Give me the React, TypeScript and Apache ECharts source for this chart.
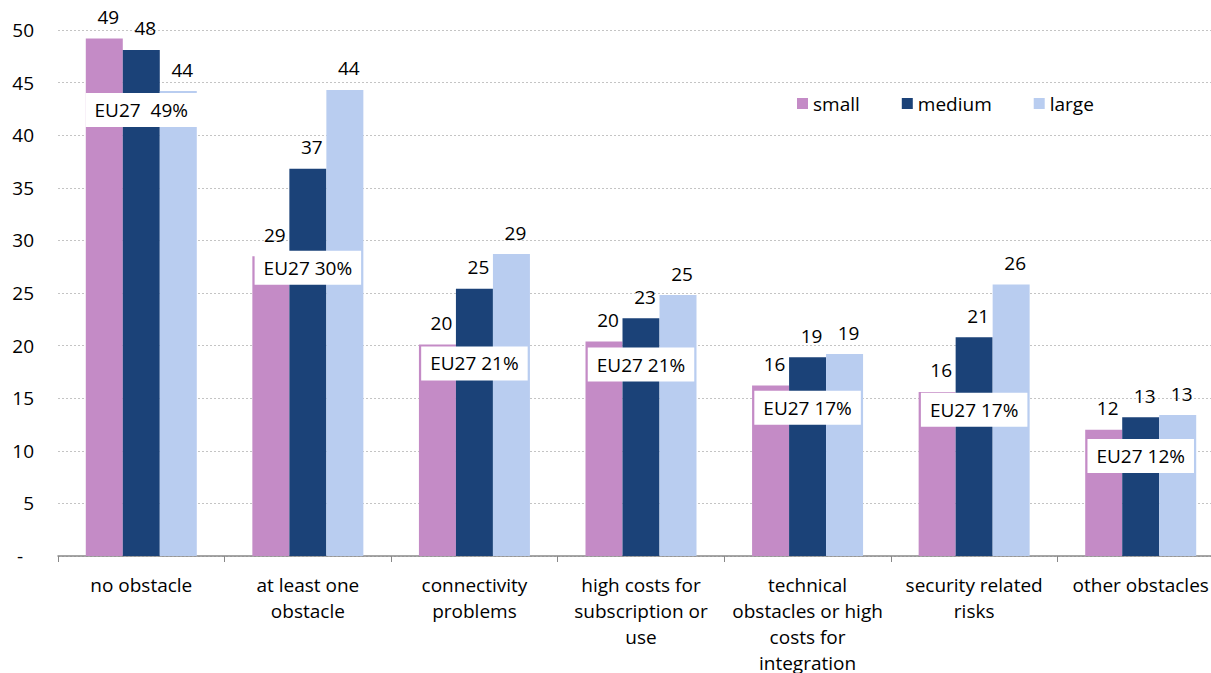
import React, { useEffect, useRef } from "react";
import * as echarts from "echarts";

const categories = [
  "no obstacle",
  "at least one\nobstacle",
  "connectivity\nproblems",
  "high costs for\nsubscription or\nuse",
  "technical\nobstacles or high\ncosts for\nintegration",
  "security related\nrisks",
  "other obstacles",
];
const seriesNames = ["small", "medium", "large"];
const small = [49.2, 28.5, 20.1, 20.4, 16.2, 15.6, 12.0];
const medium = [48.1, 36.8, 25.4, 22.6, 18.9, 20.8, 13.2];
const large = [44.2, 44.3, 28.7, 24.8, 19.2, 25.8, 13.4];
const eu27Values = [49, 30, 21, 21, 17, 17, 12];
const eu27BoxLevel = [42.4, 27.4, 18.3, 18.2, 14.1, 13.9, 9.5];
const yTicks = [0, 5, 10, 15, 20, 25, 30, 35, 40, 45, 50];

const colors = ["#c48bc6", "#1b4278", "#b9cdf0"];
const FONT = "'Open Sans', 'Liberation Sans', sans-serif";
const FS = 19;

export default function App() {
  const ref = useRef<HTMLDivElement>(null);
  useEffect(() => {
    if (!ref.current) return;
    const chart = echarts.init(ref.current, undefined, { renderer: "svg" });
    const barLabel = {
      show: true,
      position: "top",
      distance: 12,
      offset: [4, 0],
      fontSize: FS,
      color: "#000",
      fontFamily: FONT,
      formatter: (p: any) => String(Math.round(p.value)),
    };
    const values = [small, medium, large];
    chart.setOption({
      animation: false,
      backgroundColor: "#fff",
      textStyle: { fontFamily: FONT },
      legend: {
        data: seriesNames,
        left: 792,
        top: 89,
        icon: "rect",
        itemWidth: 11,
        itemHeight: 11,
        itemGap: 42,
        textStyle: { fontSize: FS, color: "#000", fontFamily: FONT },
      },
      grid: {
        left: 58,
        right: -13,
        top: 30,
        bottom: 117,
        containLabel: false,
        outerBoundsMode: "none",
      },
      xAxis: {
        type: "category",
        data: categories,
        axisLine: { lineStyle: { color: "#888", width: 1.5 } },
        axisTick: { show: true, length: 6, lineStyle: { color: "#888" } },
        axisLabel: {
          interval: 0,
          fontSize: FS,
          lineHeight: 26,
          color: "#000",
          margin: 16,
          fontFamily: FONT,
        },
      },
      yAxis: {
        type: "value",
        min: yTicks[0],
        max: yTicks[yTicks.length - 1],
        interval: 5,
        axisLine: { show: false },
        axisTick: { show: false },
        splitLine: { lineStyle: { color: "#c4c4c4", type: [2, 2], width: 1 } },
        axisLabel: {
          fontSize: FS,
          color: "#000",
          margin: 24,
          fontFamily: FONT,
          formatter: (v: number) => (v === 0 ? "{d|-}" : String(v)),
          rich: { d: { fontSize: FS, color: "#000", padding: [0, 11, 0, 0], fontFamily: FONT } },
        },
      },
      series: [
        ...seriesNames.map((name, i) => ({
          name,
          type: "bar",
          data: values[i],
          barWidth: 37,
          barGap: "0%",
          itemStyle: { color: colors[i] },
          label: barLabel,
          z: 2,
        })),
        {
          name: "EU27",
          type: "scatter",
          data: eu27BoxLevel.map((y, i) => [i, y]),
          symbol: "rect",
          symbolSize: 1,
          itemStyle: { color: "rgba(255,255,255,0)", opacity: 1 },
          emphasis: { disabled: true },
          z: 10,
          silent: true,
          label: {
            show: true,
            position: "inside",
            backgroundColor: "#ffffff",
            opacity: 1,
            padding: [5, 9],
            fontSize: FS,
            lineHeight: 24,
            color: "#000",
            fontFamily: FONT,
            formatter: (p: any) =>
              p.dataIndex === 0
                ? `EU27  ${eu27Values[p.dataIndex]}%`
                : `EU27 ${eu27Values[p.dataIndex]}%`,
          },
        },
      ],
    });
    return () => chart.dispose();
  }, []);
  return (
    <div
      ref={ref}
      style={{ position: "fixed", left: 0, top: 0, width: 1211, height: 673, background: "#fff" }}
    />
  );
}
